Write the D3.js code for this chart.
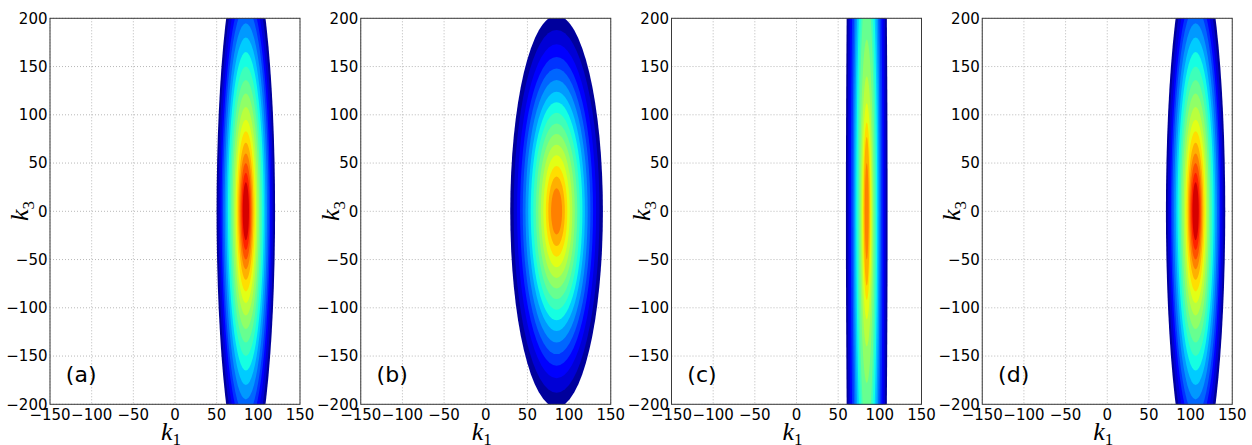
<!DOCTYPE html>
<html><head><meta charset="utf-8">
<script src="https://cdn.jsdelivr.net/npm/d3@7"></script>
<style>body{margin:0;background:#fff} svg{display:block}</style>
</head><body><svg id="c" width="1252" height="445"></svg>
<script>
// ---- data ----
const panelLabels = ["(a)", "(b)", "(c)", "(d)"];
const k1Ticks = [-150, -100, -50, 0, 50, 100, 150];
const k3Ticks = [-200, -150, -100, -50, 0, 50, 100, 150, 200];
const k1Domain = [-150, 150];
const k3Domain = [-200, 200];
const levelCount = 20;              // shared contour bands (jet colormap)
// centre of each panel's peak (k1, k3)
const centerK1 = [85, 85, 84.3, 106];
const centerK3 = [0, 0, 0, 0];
// half-extent of each filled contour band, outermost first (band index = colour index)
const halfK3_a = [270, 254, 238, 224, 211, 195, 180, 165, 150, 136, 122, 108, 95, 83, 71, 60, 50, 40, 30];
const halfK1_a = [35.1, 33.0, 30.9, 29.1, 27.4, 25.4, 23.4, 21.5, 19.5, 17.7, 15.9, 14.0, 12.4, 10.8, 9.2, 7.8, 6.5, 5.1, 3.8];
const halfK3_b = [203, 188, 173, 160, 148, 136, 124, 113, 102, 91, 80, 69, 58, 47, 36, 24];
const halfK1_b = [55.6, 51.5, 47.4, 43.8, 40.6, 37.3, 34.0, 31.0, 27.9, 24.9, 21.9, 18.9, 15.9, 12.9, 9.9, 6.6];
const halfK3_c = [760, 680, 600, 530, 470, 410, 360, 310, 262, 232, 178, 140, 112, 92, 77, 50];
const halfK1_c = [25, 23, 21, 19, 17, 15.5, 14, 12.5, 11, 9.5, 8, 6.8, 5.6, 4.5, 3.5, 2.3];
const halfK3_d = [270, 254, 238, 224, 211, 195, 180, 165, 150, 136, 122, 108, 95, 83, 71, 60, 50, 40, 30];
const halfK1_d = [35.6, 33.5, 31.3, 29.5, 27.8, 25.7, 23.7, 21.7, 19.7, 17.9, 16.1, 14.2, 12.5, 10.9, 9.3, 7.9, 6.6, 5.2, 3.8];
const halfK3 = [halfK3_a, halfK3_b, halfK3_c, halfK3_d];
const halfK1 = [halfK1_a, halfK1_b, halfK1_c, halfK1_d];

// ---- matplotlib "jet" colormap ----
const jr = d3.scaleLinear().domain([0, 0.35, 0.66, 0.89, 1]).range([0, 0, 1, 1, 0.5]).clamp(true);
const jg = d3.scaleLinear().domain([0, 0.125, 0.375, 0.64, 0.91, 1]).range([0, 0, 1, 1, 0, 0]).clamp(true);
const jb = d3.scaleLinear().domain([0, 0.11, 0.34, 0.65, 1]).range([0.5, 1, 1, 0, 0]).clamp(true);
const jet = t => d3.rgb(jr(t) * 255, jg(t) * 255, jb(t) * 255).formatHex();
const bandColor = k => jet((k + 0.5) / levelCount);

// ---- layout ----
const svg = d3.select("#c");
const plotTop = 18.3, plotBottom = 404.3, plotW = 250, firstLeft = 50, step = 310.75;
const tickFont = "'DejaVu Sans', sans-serif";

panelLabels.forEach((lab, i) => {
  const left = firstLeft + i * step;
  const x = d3.scaleLinear().domain(k1Domain).range([left, left + plotW]);
  const y = d3.scaleLinear().domain(k3Domain).range([plotBottom, plotTop]);
  const g = svg.append("g");

  // grid
  g.append("g").selectAll("line").data(k1Ticks).join("line")
    .attr("x1", d => x(d)).attr("x2", d => x(d)).attr("y1", plotTop).attr("y2", plotBottom)
    .attr("stroke", "#b8b8b8").attr("stroke-width", 1).attr("stroke-dasharray", "1,2");
  g.append("g").selectAll("line").data(k3Ticks).join("line")
    .attr("y1", d => y(d)).attr("y2", d => y(d)).attr("x1", left).attr("x2", left + plotW)
    .attr("stroke", "#b8b8b8").attr("stroke-width", 1).attr("stroke-dasharray", "1,2");

  // clip
  const cid = "clip" + i;
  svg.append("clipPath").attr("id", cid).append("rect")
    .attr("x", left).attr("y", plotTop).attr("width", plotW).attr("height", plotBottom - plotTop);

  // filled contour bands
  const bands = halfK3[i].map((h, k) => ({k, h, w: halfK1[i][k]}));
  g.append("g").attr("clip-path", `url(#${cid})`).selectAll("ellipse").data(bands).join("ellipse")
    .attr("cx", x(centerK1[i])).attr("cy", y(centerK3[i]))
    .attr("rx", d => x(centerK1[i] + d.w) - x(centerK1[i]))
    .attr("ry", d => y(centerK3[i]) - y(centerK3[i] + d.h))
    .attr("fill", d => bandColor(d.k));

  // frame
  g.append("rect").attr("x", left).attr("y", plotTop).attr("width", plotW).attr("height", plotBottom - plotTop)
    .attr("fill", "none").attr("stroke", "#3a3a3a").attr("stroke-width", 1);

  // tick labels
  const fmt = v => (v < 0 ? "\u2212" + Math.abs(v) : String(v));
  g.append("g").selectAll("text").data(k1Ticks).join("text")
    .attr("x", d => x(d)).attr("y", plotBottom + 16).attr("text-anchor", "middle")
    .attr("font-family", tickFont).attr("font-size", 15).attr("fill", "#000").text(fmt);
  g.append("g").selectAll("text").data(k3Ticks).join("text")
    .attr("x", left - 2.5).attr("y", d => y(d) + 5.4).attr("text-anchor", "end")
    .attr("font-family", tickFont).attr("font-size", 15).attr("fill", "#000").text(fmt);

  // panel label
  g.append("text").attr("x", x(-131)).attr("y", y(-177))
    .attr("font-family", tickFont).attr("font-size", 22).attr("fill", "#000").text(lab);

  // axis labels
  const xl = g.append("text").attr("x", left + plotW / 2 - 4).attr("y", 440)
    .attr("text-anchor", "middle").attr("font-family", "'Liberation Serif', serif")
    .attr("font-style", "italic").attr("font-size", 26).attr("fill", "#000");
  xl.append("tspan").text("k");
  xl.append("tspan").attr("font-style", "normal").attr("font-size", 17).attr("dy", 5).text("1");

  const yl = g.append("text").attr("transform", `translate(${left - 22},${211}) rotate(-90)`)
    .attr("text-anchor", "middle").attr("font-family", "'Liberation Serif', serif")
    .attr("font-style", "italic").attr("font-size", 26).attr("fill", "#000");
  yl.append("tspan").text("k");
  yl.append("tspan").attr("font-style", "normal").attr("font-size", 17).attr("dy", 6).text("3");
});
</script></body></html>
